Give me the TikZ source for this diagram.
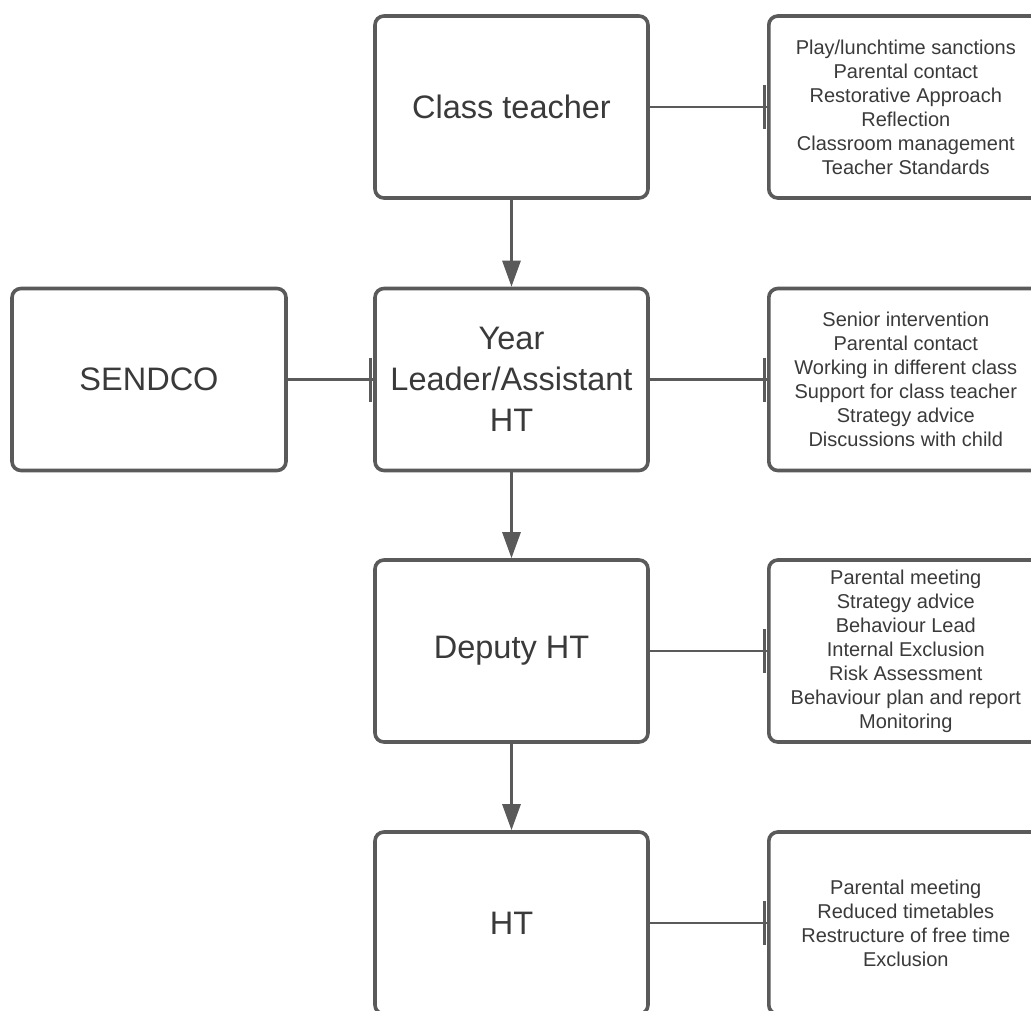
\documentclass[tikz,border=0pt]{standalone}
\usepackage{fontspec}
\setmainfont{Liberation Sans}
\usetikzlibrary{arrows.meta}
\definecolor{edge}{HTML}{5A5A5A}
\definecolor{ink}{HTML}{3A3A3A}
\tikzset{
  mainbox/.style={draw=edge, line width=3.6pt, rounded corners=9pt, fill=white,
    minimum width=273pt, minimum height=182pt, inner sep=2pt, align=center,
    text=ink, font=\fontsize{32.5}{41}\selectfont},
  listbox/.style={draw=edge, line width=3.6pt, rounded corners=9pt, fill=white,
    minimum width=274pt, minimum height=182pt, inner sep=2pt, align=center,
    text=ink, font=\fontsize{20}{24}\selectfont},
  conn/.style={draw=edge, line width=2.8pt},
  flow/.style={draw=edge, line width=2.8pt, -{Triangle[length=26pt,width=18pt]}},
  tickbar/.style={draw=edge, line width=3pt}
}
\begin{document}
\begin{tikzpicture}[x=1pt,y=-1pt]
\useasboundingbox (0,0) rectangle (1031,1010);
\clip (0,0) rectangle (1031,1010);
\fill[white] (0,0) rectangle (1031,1010);

% main column
\node[mainbox] (ct) at (511.5,107) {Class teacher};
\node[mainbox] (yl) at (511.5,379.5) {Year\\Leader/Assistant\\HT};
\node[mainbox] (dh) at (511.5,651) {Deputy HT};
\node[mainbox] (ht) at (511.5,923) {HT};
\node[mainbox, minimum width=274pt] (se) at (149,379.5) {SENDCO};

% right-hand lists (right edge runs off the picture)
\node[listbox, anchor=west] (r1) at (767,107) {Play/lunchtime sanctions\\Parental contact\\Restorative Approach\\Reflection\\Classroom management\\Teacher Standards};
\node[listbox, anchor=west] (r2) at (767,379.5) {Senior intervention\\Parental contact\\Working in different class\\Support for class teacher\\Strategy advice\\Discussions with child};
\node[listbox, anchor=west] (r3) at (767,651) {Parental meeting\\Strategy advice\\Behaviour Lead\\Internal Exclusion\\Risk Assessment\\Behaviour plan and report\\Monitoring};
\node[listbox, anchor=west] (r4) at (767,923) {Parental meeting\\Reduced timetables\\Restructure of free time\\Exclusion};

% vertical flow arrows
\draw[flow] (ct.south) -- (yl.north);
\draw[flow] (yl.south) -- (dh.north);
\draw[flow] (dh.south) -- (ht.north);

% horizontal connectors
\draw[conn] (ct.east) -- (r1.west);
\draw[conn] (yl.east) -- (r2.west);
\draw[conn] (dh.east) -- (r3.west);
\draw[conn] (ht.east) -- (r4.west);
\draw[conn] (se.east) -- (yl.west);

% small attachment bars at connector ends
\foreach \n in {r1,r2,r3,r4,yl}{
  \draw[tickbar] ([xshift=-2.5pt,yshift=22pt]\n.west) -- ([xshift=-2.5pt,yshift=-22pt]\n.west);
}
\end{tikzpicture}
\end{document}
